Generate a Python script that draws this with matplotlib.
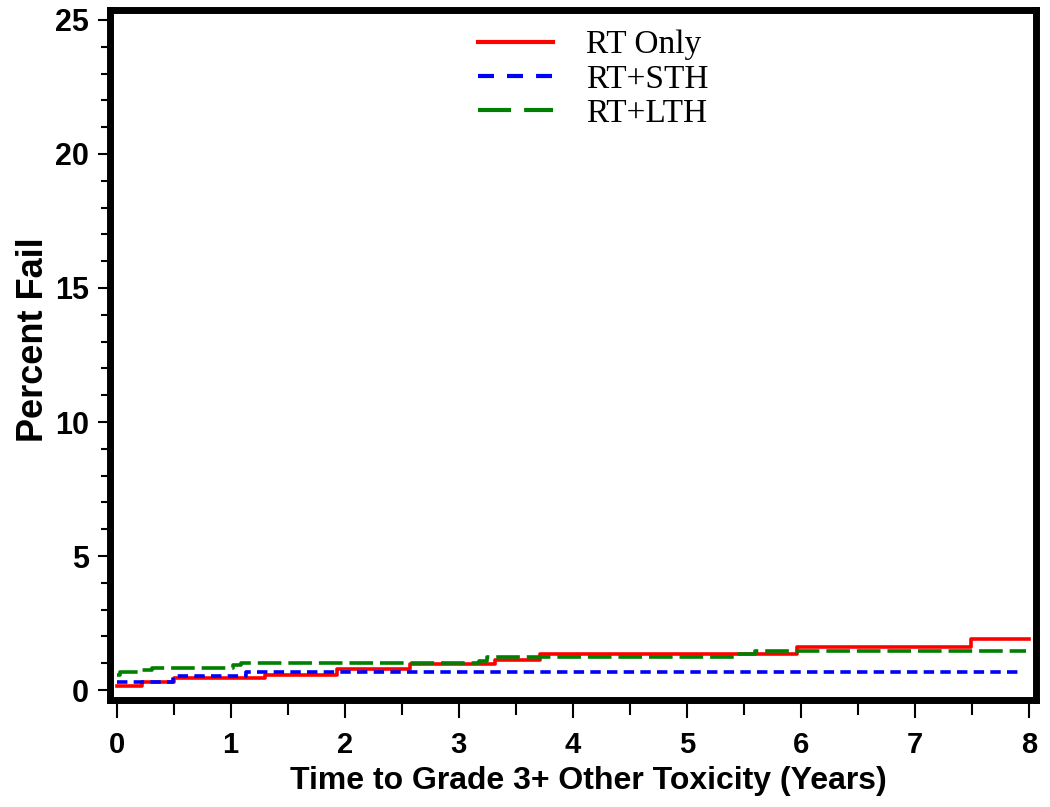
import matplotlib
matplotlib.use("Agg")
import matplotlib.pyplot as plt
from matplotlib.lines import Line2D
from matplotlib.ticker import MultipleLocator

# Data
rt_only_t = [0, 0.22, 0.50, 1.30, 1.93, 2.57, 3.32, 3.71, 5.97, 7.49, 8.0]
rt_only_v = [0.16, 0.29, 0.46, 0.58, 0.77, 0.96, 1.13, 1.34, 1.59, 1.90, 1.90]
rt_sth_t = [0, 0.49, 1.13, 7.95]
rt_sth_v = [0.32, 0.51, 0.66, 0.66]
rt_lth_t = [0, 0.03, 0.22, 0.31, 1.02, 1.09, 3.18, 3.25, 5.42, 5.60, 7.98]
rt_lth_v = [0.57, 0.68, 0.76, 0.84, 0.94, 1.01, 1.09, 1.22, 1.34, 1.46, 1.46]
labels = ["RT Only", "RT+STH", "RT+LTH"]
x_ticks = [0, 1, 2, 3, 4, 5, 6, 7, 8]
y_ticks = [0, 5, 10, 15, 20, 25]

plt.rcParams['lines.scale_dashes'] = False

fig = plt.figure(figsize=(10.5, 8.07), dpi=100)
ax = fig.add_axes([109.5/1050, 1 - 700/807, (1036 - 109.5)/1050, (700 - 10)/807])

ax.step(rt_only_t, rt_only_v, where='post', color='#FF0000', lw=2.6, linestyle='-')
ax.step(rt_sth_t, rt_sth_v, where='post', color='#0000FF', lw=2.6, linestyle=(0, (7.5, 4.5)))
ax.step(rt_lth_t, rt_lth_v, where='post', color='#008000', lw=2.6, linestyle=(0, (17, 5)))

ax.set_xlim(-0.063, 8.064)
ax.set_ylim(-0.37, 25.37)
ax.set_xticks(x_ticks)
ax.set_yticks(y_ticks)
ax.xaxis.set_minor_locator(MultipleLocator(0.5))
ax.yaxis.set_minor_locator(MultipleLocator(1))

for s in ax.spines.values():
    s.set_linewidth(5)
ax.tick_params(axis='y', which='major', direction='out', length=9, width=1.5, pad=5.8)
ax.tick_params(axis='y', which='minor', direction='out', length=6.8, width=1.5)
ax.tick_params(axis='x', which='major', direction='out', length=13, width=1.5, pad=9)
ax.tick_params(axis='x', which='minor', direction='out', length=11, width=1.5)

for lab in ax.get_yticklabels():
    lab.set_fontfamily('Liberation Sans')
    lab.set_fontweight('bold')
    lab.set_fontsize(22)
for lab in ax.get_xticklabels():
    lab.set_fontfamily('Liberation Sans')
    lab.set_fontweight('bold')
    lab.set_fontsize(21)

yl = ax.set_ylabel("Percent Fail", fontfamily='Liberation Sans', fontweight='bold', fontsize=26)
xl = ax.set_xlabel("Time to Grade 3+ Other Toxicity (Years)", fontfamily='Liberation Sans',
                   fontweight='bold', fontsize=23)
ax.yaxis.set_label_coords(34/1050, 1 - 340/807, transform=fig.transFigure)
ax.xaxis.set_label_coords(588/1050, 1 - 781/807, transform=fig.transFigure)
yl.set_verticalalignment('center')
xl.set_verticalalignment('center')

handles = [
    Line2D([], [], color='#FF0000', lw=3, linestyle='-'),
    Line2D([], [], color='#0000FF', lw=3, linestyle=(0, (11.5, 9.4))),
    Line2D([], [], color='#008000', lw=3, linestyle=(0, (23.8, 9.4))),
]
leg = ax.legend(handles, labels, loc='upper left', bbox_to_anchor=(478/1050, 1 - 30/807),
                bbox_transform=fig.transFigure, frameon=False, borderpad=0, borderaxespad=0,
                handlelength=2.25, handletextpad=1.0, labelspacing=0.11,
                prop={'family': 'Liberation Serif', 'size': 24})

fig.savefig("out.png", dpi=100)
